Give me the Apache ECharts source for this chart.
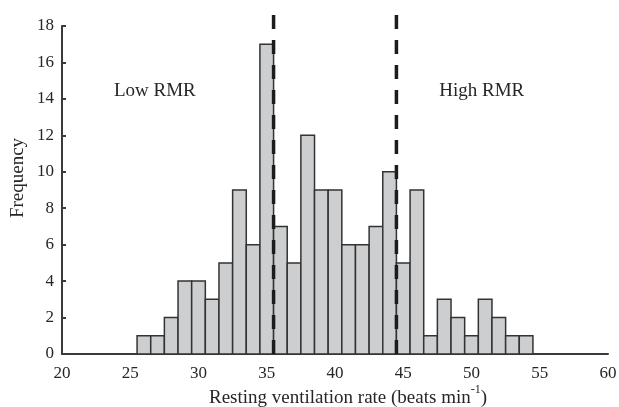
<!DOCTYPE html>
<html>
<head>
<meta charset="utf-8">
<script src="https://cdn.jsdelivr.net/npm/echarts@6/dist/echarts.min.js"></script>
<style>
html,body{margin:0;padding:0;background:#fff;}
#chart{width:619px;height:407px;}
</style>
</head>
<body>
<div id="chart"></div>
<script>
// Histogram bins (centre of each 1-unit bin) and their frequencies
const binCentres = [26,27,28,29,30,31,32,33,34,35,36,37,38,39,40,41,42,43,44,45,46,47,48,49,50,51,52,53,54];
const frequencies = [1,1,2,4,4,3,5,9,6,17,7,5,12,9,9,6,6,7,10,5,9,1,3,2,1,3,2,1,1];
const binWidth = 1;
// Threshold lines separating Low / High RMR groups
const thresholds = [35.5, 44.5];
const thresholdTop = 18.6;
// Group annotations
const annotationTexts = ['Low RMR', 'High RMR'];
const annotationX = [26.8, 50.75];
const annotationY = [14.45, 14.45];
// Axis ticks
const xTicks = [20,25,30,35,40,45,50,55,60];
const yTicks = [0,2,4,6,8,10,12,14,16,18];

const FONT = 'Liberation Serif';
const TXT = '#262626';
const AX = '#3a3a3a';

const chart = echarts.init(document.getElementById('chart'), null, {renderer:'canvas'});

const barData = binCentres.map((c, i) => [c - binWidth/2, c + binWidth/2, frequencies[i]]);

const series = [{
  type: 'custom',
  data: barData,
  encode: {x: [0, 1], y: 2},
  renderItem: function (params, api) {
    const p0 = api.coord([api.value(0), 0]);
    const p1 = api.coord([api.value(1), api.value(2)]);
    return {
      type: 'rect',
      shape: {x: p0[0], y: p1[1], width: p1[0] - p0[0], height: p0[1] - p1[1]},
      style: {fill: '#cdcecf', stroke: '#333333', lineWidth: 1.5}
    };
  },
  z: 2
}];

thresholds.forEach(t => {
  series.push({
    type: 'line',
    data: [[t, thresholdTop], [t, 0]],
    symbol: 'none',
    clip: false,
    lineStyle: {color: '#1c1c1c', width: 3.5, type: [14, 11]},
    z: 5,
    silent: true
  });
});

series.push({
  type: 'scatter',
  data: annotationTexts.map((s, i) => [annotationX[i], annotationY[i], s]),
  symbolSize: 0,
  silent: true,
  itemStyle: {opacity: 1},
  label: {
    show: true,
    position: 'inside',
    formatter: p => p.value[2],
    fontFamily: FONT,
    fontSize: 19,
    color: TXT,
    opacity: 1
  },
  z: 6
});

chart.setOption({
  animation: false,
  backgroundColor: '#fff',
  grid: {left: 62, right: 11, top: 26, bottom: 53, containLabel: false, outerBoundsMode: 'none'},
  xAxis: {
    type: 'value',
    min: xTicks[0], max: xTicks[xTicks.length - 1], interval: 5,
    axisLine: {show: true, onZero: false, lineStyle: {color: AX, width: 2}},
    axisTick: {show: false},
    splitLine: {show: false},
    axisLabel: {fontFamily: FONT, fontSize: 17, color: TXT, margin: 11},
    name: '{a|Resting ventilation rate (beats min}{s|-1}{a|)}',
    nameLocation: 'middle',
    nameMoveOverlap: false,
    nameGap: 30,
    nameTextStyle: {
      padding: [0, 0, 0, 26],
      rich: {
        a: {fontFamily: FONT, fontSize: 19, color: TXT, verticalAlign: 'bottom'},
        s: {fontFamily: FONT, fontSize: 12, color: TXT, verticalAlign: 'bottom', padding: [0, 0, 12, 0]}
      }
    }
  },
  yAxis: {
    type: 'value',
    min: yTicks[0], max: yTicks[yTicks.length - 1], interval: 2,
    axisLine: {show: true, lineStyle: {color: AX, width: 2}},
    axisTick: {show: true, inside: true, length: 4, lineStyle: {color: AX, width: 2}},
    splitLine: {show: false},
    axisLabel: {fontFamily: FONT, fontSize: 17, color: TXT, margin: 8},
    name: 'Frequency',
    nameLocation: 'middle',
    nameMoveOverlap: false,
    nameGap: 34,
    nameTextStyle: {fontFamily: FONT, fontSize: 19, color: TXT, padding: [0, 0, 0, 24]}
  },
  series: series
});
</script>
</body>
</html>
